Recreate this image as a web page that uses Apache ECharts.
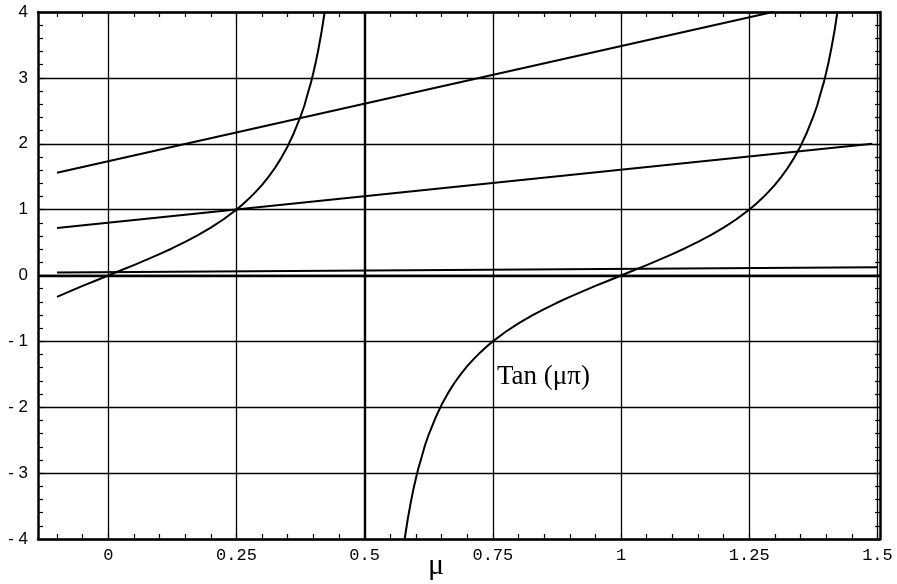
<!DOCTYPE html>
<html>
<head>
<meta charset="utf-8">
<script src="https://cdn.jsdelivr.net/npm/echarts@6/dist/echarts.min.js"></script>
<style>html,body{margin:0;padding:0;background:#fff}#c{width:897px;height:584px}</style>
</head>
<body>
<div id="c"></div>
<script>
// ---- data ----
const xMin = -0.137, xMax = 1.505;
const yMin = -4, yMax = 4;
const xLabelValues = [0, 0.25, 0.5, 0.75, 1, 1.25, 1.5];
const xTickValues = [-0.1,-0.05,0,0.05,0.1,0.15,0.2,0.25,0.3,0.35,0.4,0.45,0.5,0.55,0.6,0.65,0.7,0.75,0.8,0.85,0.9,0.95,1,1.05,1.1,1.15,1.2,1.25,1.3,1.35,1.4,1.45,1.5];
const xGridValues = [0, 0.25, 0.5, 0.75, 1, 1.25, 1.5];
const thickX = [0.5];
const thickY = [0];

// tan(mu*pi), branch 1 (left of asymptote at 0.5)
const tanBranch1 = [
  [-0.1,-0.325],[-0.075,-0.240],[-0.05,-0.158],[-0.025,-0.079],[0,0],
  [0.025,0.079],[0.05,0.158],[0.075,0.240],[0.1,0.325],[0.125,0.414],
  [0.15,0.510],[0.175,0.613],[0.2,0.727],[0.225,0.854],[0.25,1.0],
  [0.2625,1.083],[0.275,1.171],[0.2875,1.269],[0.3,1.376],[0.3125,1.497],
  [0.325,1.632],[0.3375,1.786],[0.35,1.963],[0.3625,2.171],[0.375,2.414],
  [0.3825,2.58],[0.39,2.79],[0.395,2.92],[0.4,3.078],[0.405,3.25],
  [0.41,3.442],[0.416,3.70],[0.422,4.0]
];
// tan(mu*pi), branch 2 (between asymptotes 0.5 and 1.5)
const tanBranch2 = [
  [0.578,-4.0],[0.584,-3.70],[0.59,-3.442],[0.595,-3.25],[0.6,-3.078],
  [0.605,-2.92],[0.61,-2.79],[0.6175,-2.58],[0.625,-2.414],[0.6375,-2.171],
  [0.65,-1.963],[0.6625,-1.786],[0.675,-1.632],[0.6875,-1.497],[0.7,-1.376],
  [0.7125,-1.269],[0.725,-1.171],[0.7375,-1.083],[0.75,-1.0],
  [0.775,-0.854],[0.8,-0.727],[0.825,-0.613],[0.85,-0.510],[0.875,-0.414],
  [0.9,-0.325],[0.925,-0.240],[0.95,-0.158],[0.975,-0.079],[1.0,0],
  [1.025,0.079],[1.05,0.158],[1.075,0.240],[1.1,0.325],[1.125,0.414],
  [1.15,0.510],[1.175,0.613],[1.2,0.727],[1.225,0.854],[1.25,1.0],
  [1.2625,1.083],[1.275,1.171],[1.2875,1.269],[1.3,1.376],[1.3125,1.497],
  [1.325,1.632],[1.3375,1.786],[1.35,1.963],[1.3625,2.171],[1.375,2.414],
  [1.3825,2.58],[1.39,2.79],[1.395,2.92],[1.4,3.078],[1.405,3.25],
  [1.41,3.442],[1.416,3.70],[1.422,4.0]
];
const lineA = [[-0.1,1.56],[1.296,4.0]];
const lineB = [[-0.1,0.72],[1.49,2.0]];
const lineC = [[-0.1,0.045],[1.5,0.125]];

const curveLabel = 'Tan (μπ)';
const xName = 'μ';

// ---- chart ----
const chart = echarts.init(document.getElementById('c'), null, {renderer:'canvas'});
const frame = {show:true, onZero:false, lineStyle:{color:'#000', width:2.5}};
const tickStyle = {color:'#000', width:1.2};
function lineSeries(data){
  return {type:'line', data:data, showSymbol:false, symbol:'none', silent:true, clip:true,
    lineStyle:{color:'#000', width:2, join:'round'}, z:5, animation:false};
}
const gridMarks = xGridValues.map(v => ({xAxis:v, lineStyle:{width: thickX.includes(v) ? 2.4 : 1.3}}))
  .concat(thickY.map(v => ({yAxis:v, lineStyle:{width:2.4}})));

chart.setOption({
  animation:false,
  backgroundColor:'#fff',
  grid:{left:38, right:17, top:12, bottom:45, containLabel:false},
  xAxis:[{
    type:'value', min:xMin, max:xMax, position:'bottom',
    axisLine:frame,
    axisTick:{show:true, inside:true, length:5, lineStyle:tickStyle, customValues:xTickValues},
    axisLabel:{show:true, customValues:xLabelValues, margin:8, color:'#000',
      fontFamily:'Liberation Mono', fontSize:17,
      formatter: v => String(v)},
    splitLine:{show:false}
  },{
    type:'value', min:xMin, max:xMax, position:'top',
    axisLine:frame,
    axisTick:{show:true, inside:true, length:5, lineStyle:tickStyle, customValues:xTickValues},
    axisLabel:{show:false},
    splitLine:{show:false}
  }],
  yAxis:[{
    type:'value', min:yMin, max:yMax, interval:1, position:'left',
    axisLine:frame,
    axisTick:{show:true, inside:true, length:6, lineStyle:tickStyle},
    minorTick:{show:true, splitNumber:5, length:5, lineStyle:tickStyle},
    axisLabel:{show:true, margin:10, color:'#000', fontFamily:'Liberation Sans', fontSize:17,
      formatter: v => v < 0 ? '- ' + (-v) : String(v)},
    splitLine:{show:true, lineStyle:{color:'#000', width:1.3}}
  },{
    type:'value', min:yMin, max:yMax, interval:1, position:'right',
    axisLine:frame,
    axisTick:{show:true, inside:true, length:6, lineStyle:tickStyle},
    minorTick:{show:true, splitNumber:5, length:5, lineStyle:tickStyle},
    axisLabel:{show:false},
    splitLine:{show:false}
  }],
  series:[
    {type:'line', data:[], silent:true,
      markLine:{silent:true, symbol:['none','none'], label:{show:false},
        lineStyle:{color:'#000', type:'solid', width:1.3}, data:gridMarks, animation:false}},
    lineSeries(tanBranch1),
    lineSeries(tanBranch2),
    lineSeries(lineA),
    lineSeries(lineB),
    lineSeries(lineC)
  ],
  graphic:[
    {type:'text', left:497, top:363, z:10,
      style:{text:curveLabel, fill:'#000', fontFamily:'Liberation Serif', fontSize:27}},
    {type:'text', left:428, top:551, z:10,
      style:{text:xName, fill:'#000', fontFamily:'Liberation Serif', fontSize:30}}
  ]
});
</script>
</body>
</html>
